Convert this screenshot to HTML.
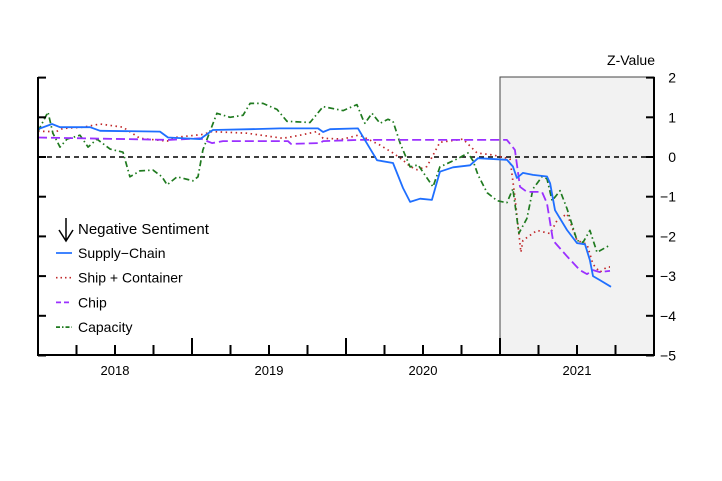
<!DOCTYPE html>
<html><head><meta charset="utf-8"><style>
html,body{margin:0;padding:0;background:#fff;}
svg{display:block;font-family:"Liberation Sans",Arial,sans-serif;}
</style></head><body>
<svg id="chart" width="722" height="481" viewBox="0 0 722 481"></svg>
<script>
const supplyDates=[2018.000,2018.091,2018.143,2018.338,2018.403,2018.792,2018.844,2019.052,2019.136,2019.377,2019.571,2019.818,2019.851,2019.896,2020.078,2020.104,2020.201,2020.305,2020.370,2020.416,2020.481,2020.558,2020.610,2020.695,2020.805,2020.857,2021.045,2021.084,2021.110,2021.149,2021.214,2021.305,2021.325,2021.357,2021.435,2021.500,2021.552,2021.584,2021.604,2021.649,2021.721];
const supplyValues=[0.70,0.83,0.75,0.75,0.66,0.64,0.49,0.45,0.68,0.70,0.72,0.72,0.63,0.70,0.72,0.55,-0.08,-0.15,-0.78,-1.13,-1.05,-1.08,-0.37,-0.26,-0.21,-0.03,-0.07,-0.24,-0.53,-0.40,-0.45,-0.49,-0.66,-1.34,-1.84,-2.17,-2.20,-2.60,-3.00,-3.10,-3.27];
const shipDates=[2018.000,2018.091,2018.097,2018.162,2018.292,2018.403,2018.552,2018.662,2018.838,2018.903,2019.071,2019.130,2019.357,2019.591,2019.701,2019.812,2019.851,2019.981,2020.078,2020.091,2020.221,2020.305,2020.370,2020.416,2020.461,2020.526,2020.610,2020.760,2020.851,2020.955,2021.065,2021.097,2021.136,2021.149,2021.240,2021.325,2021.370,2021.435,2021.500,2021.565,2021.604,2021.649,2021.695,2021.714];
const shipValues=[0.65,0.64,0.60,0.72,0.75,0.83,0.75,0.47,0.40,0.50,0.57,0.64,0.60,0.47,0.55,0.64,0.47,0.45,0.55,0.55,0.30,0.10,-0.08,-0.24,-0.32,-0.24,0.37,0.45,0.10,0.05,-0.05,-1.00,-2.40,-2.10,-1.85,-1.93,-1.60,-1.43,-2.10,-2.20,-2.70,-2.90,-2.77,-2.77];
const chipDates=[2018.000,2018.857,2019.052,2019.130,2019.201,2019.623,2019.643,2019.831,2019.851,2020.091,2021.045,2021.097,2021.130,2021.175,2021.273,2021.305,2021.344,2021.435,2021.519,2021.565,2021.604,2021.649,2021.714];
const chipValues=[0.49,0.43,0.47,0.35,0.40,0.40,0.33,0.35,0.40,0.43,0.43,0.18,-0.75,-0.88,-0.88,-1.17,-2.10,-2.50,-2.85,-2.95,-2.85,-2.90,-2.87];
const capDates=[2018.000,2018.065,2018.097,2018.143,2018.188,2018.273,2018.325,2018.383,2018.468,2018.552,2018.597,2018.662,2018.747,2018.805,2018.838,2018.903,2019.006,2019.039,2019.071,2019.162,2019.247,2019.331,2019.377,2019.461,2019.552,2019.617,2019.766,2019.851,2019.981,2020.071,2020.110,2020.123,2020.169,2020.221,2020.273,2020.305,2020.351,2020.416,2020.468,2020.565,2020.610,2020.721,2020.792,2020.825,2020.857,2020.916,2020.981,2021.045,2021.084,2021.123,2021.175,2021.214,2021.273,2021.305,2021.338,2021.390,2021.435,2021.500,2021.539,2021.584,2021.630,2021.714];
const capValues=[0.65,1.13,0.60,0.25,0.45,0.55,0.25,0.45,0.20,0.12,-0.50,-0.35,-0.33,-0.50,-0.70,-0.50,-0.60,-0.50,0.18,1.10,1.00,1.05,1.35,1.35,1.20,0.90,0.87,1.27,1.17,1.32,0.95,0.85,1.10,0.85,0.95,0.90,0.35,-0.25,-0.20,-0.75,-0.25,-0.05,0.10,-0.10,-0.45,-0.90,-1.10,-1.15,-0.80,-1.92,-1.55,-0.80,-0.50,-0.55,-1.10,-0.85,-1.30,-2.10,-2.15,-1.85,-2.40,-2.22];
const yTicks=[2,1,0,-1,-2,-3,-4,-5];
const yTickLabels=["2","1","0","\u22121","\u22122","\u22123","\u22124","\u22125"];
const years=[2018,2019,2020,2021];
const shadeStart=2021.0;

const L=38,R=654,T=77,B=355;
const xs=t=>L+(t-2018)*154;
const ys=v=>157-v*39.7;
const NS="http://www.w3.org/2000/svg";
const svg=document.getElementById('chart');
function mk(tag,attrs,parent){const e=document.createElementNS(NS,tag);for(const k in attrs)e.setAttribute(k,attrs[k]);(parent||svg).appendChild(e);return e;}

const shade=mk('rect',{x:xs(shadeStart),y:T,width:R-xs(shadeStart),height:B-T,fill:'#f2f2f2',stroke:'#444','stroke-width':1});



const zero=mk('line',{x1:L,x2:R,y1:ys(0),y2:ys(0),stroke:'#000','stroke-width':1.5,'stroke-dasharray':'5,4'});



function series(dates,vals,color,dash,w,name){
  const d=dates.map((t,i)=>(i?'L':'M')+xs(t).toFixed(1)+','+ys(vals[i]).toFixed(1)).join('');
  const p=mk('path',{d:d,fill:'none',stroke:color,'stroke-width':w,'stroke-dasharray':dash,'stroke-linejoin':'round'});
  
  
}
series(shipDates,shipValues,'#c0282a','1.5,3.5',1.7,'ship-container-line');
series(capDates,capValues,'#1f7a1f','6,3,1.5,3',1.7,'capacity-line');
series(chipDates,chipValues,'#9b30ff','9,4',1.8,'chip-line');
series(supplyDates,supplyValues,'#1f6fff','',1.8,'supply-chain-line');

// axes
const ax=mk('path',{d:`M${L},${T}L${L},${B}L${R},${B}L${R},${T}`,fill:'none',stroke:'#000','stroke-width':2});


yTicks.forEach((v,i)=>{
  const y=ys(v);
  const lt=mk('line',{x1:L,x2:L+8,y1:y,y2:y,stroke:'#000','stroke-width':2});
  
  
  const rt=mk('line',{x1:R-8,x2:R,y1:y,y2:y,stroke:'#000','stroke-width':2});
  
  
  const tx=mk('text',{x:676,y:y+5,'text-anchor':'end','font-size':14,fill:'#000'});
  tx.textContent=yTickLabels[i];
  
  
});
for(let q=1;q<16;q++){
  const x=L+q*154/4;
  const major=q%4===0;
  const t=mk('line',{x1:x,x2:x,y1:B,y2:B-(major?17:10),stroke:'#000','stroke-width':2});
  
  
}
years.forEach(yr=>{
  const t=mk('text',{x:xs(yr+0.5),y:375,'text-anchor':'middle','font-size':13,fill:'#000'});
  t.textContent=String(yr);
  
  
});
const zt=mk('text',{x:655,y:65,'text-anchor':'end','font-size':14,fill:'#000'});
zt.textContent='Z-Value';



// legend
const lg=mk('g',{});


const arr=mk('path',{d:'M66,218L66,240M59,230L66,241L73,230',fill:'none',stroke:'#000','stroke-width':1.5},lg);


const ht=mk('text',{x:78,y:234,'font-size':15,fill:'#000'},lg);
ht.textContent='Negative Sentiment';


const entries=[['Supply\u2212Chain','#1f6fff',''],['Ship + Container','#c0282a','1.5,3'],['Chip','#9b30ff','5,3'],['Capacity','#1f7a1f','4,2,1.5,2']];
entries.forEach((e,i)=>{
  const y=253+i*24.7;
  const ln=mk('line',{x1:56,x2:72,y1:y,y2:y,stroke:e[1],'stroke-width':1.7,'stroke-dasharray':e[2]},lg);
  
  
  const t=mk('text',{x:78,y:y+5,'font-size':14,fill:'#000'},lg);
  t.textContent=e[0];
  
  
});
</script>
</body></html>
